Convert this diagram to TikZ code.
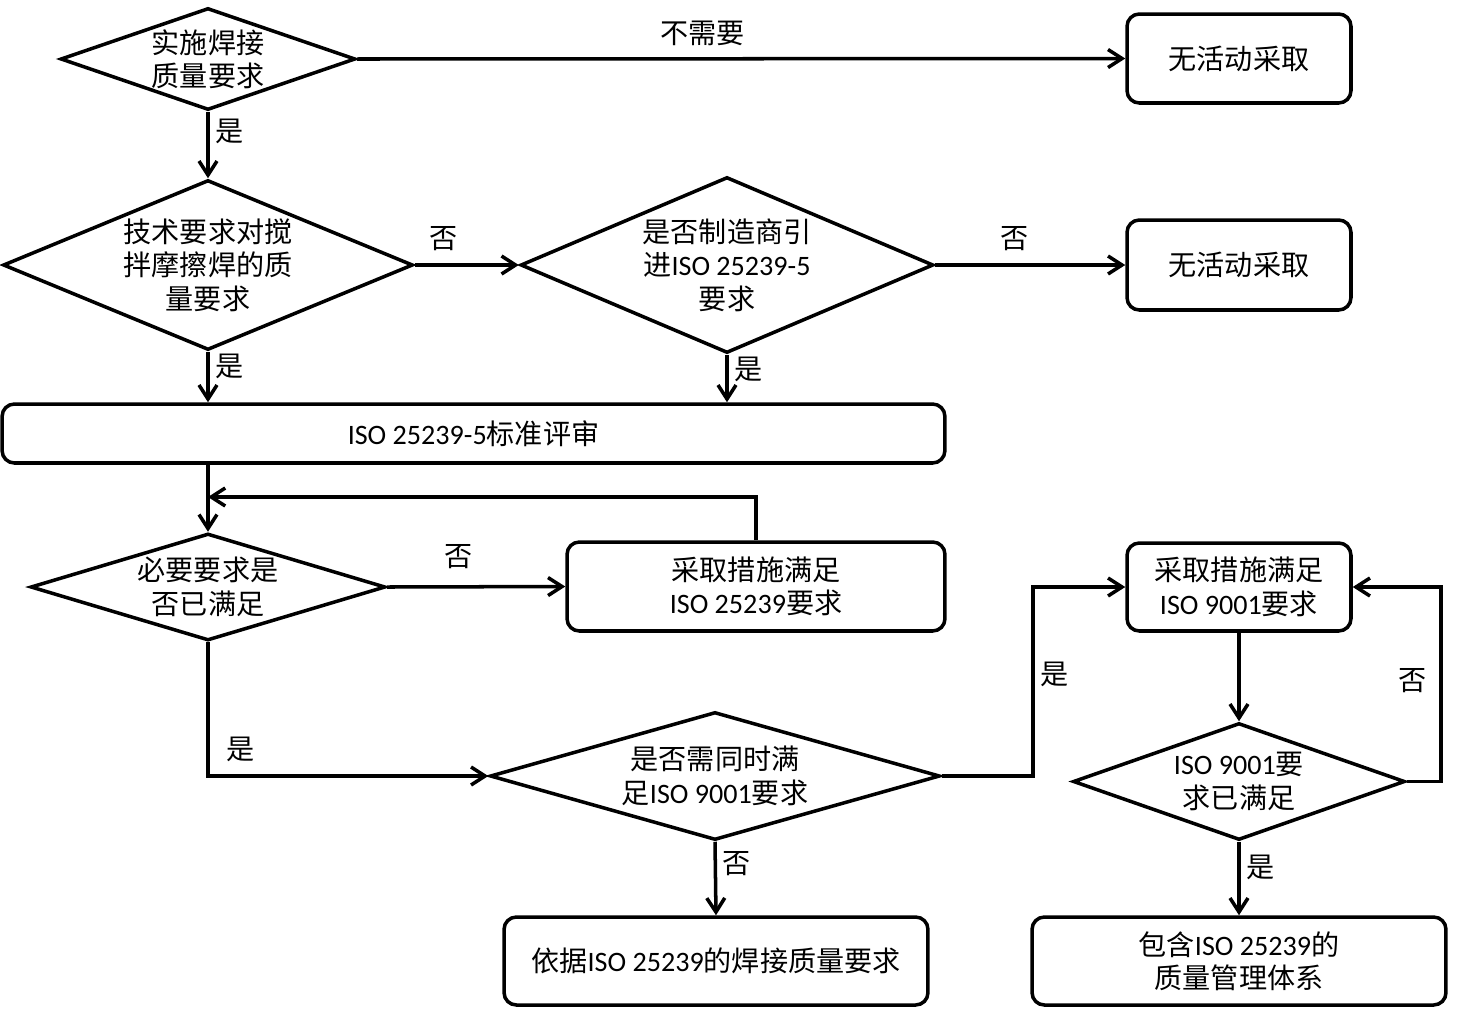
\documentclass[tikz,border=0pt]{standalone}
\usepackage{fontspec}
\setmainfont{Noto Sans CJK SC}
\newfontfamily\latfont{Carlito}
\newcommand{\lat}[1]{{\latfont #1}}
\usetikzlibrary{shapes.geometric,arrows.meta}

\begin{document}
\begin{tikzpicture}[x=0.02cm,y=-0.02cm,line width=2pt,>={Straight Barb[length=2.8mm,width=3.6mm]},font=\fontsize{16}{19}\selectfont]
\tikzstyle{dia}=[diamond,draw,inner sep=0pt]
\tikzstyle{box}=[rectangle,rounded corners=7pt,draw,align=center]
\useasboundingbox (0,0) rectangle (1457,1012);

\node[dia,minimum width=5.9cm,minimum height=2.04cm,label={[align=center]center:{实施焊接\\质量要求}}](d1) at (208,59) {};
\node[box,minimum width=4.48cm,minimum height=1.78cm](b1) at (1239,58.5) {无活动采取};
\node[dia,minimum width=8.2cm,minimum height=3.4cm,label={[align=center]center:{技术要求对搅\\拌摩擦焊的质\\量要求}}](d2) at (208,265) {};
\node[dia,minimum width=8.26cm,minimum height=3.52cm,label={[align=center]center:{是否制造商引\\进\lat{ISO 25239-5}\\要求}}](d3) at (727,265) {};
\node[box,minimum width=4.48cm,minimum height=1.8cm](b2) at (1239,265) {无活动采取};
\node[box,minimum width=18.86cm,minimum height=1.18cm](b3) at (473.5,433.5) {\lat{ISO 25239-5}标准评审};
\node[dia,minimum width=7.1cm,minimum height=2.14cm,label={[align=center]center:{必要要求是\\否已满足}}](d4) at (208,587) {};
\node[box,minimum width=7.56cm,minimum height=1.78cm](b4) at (756,586.5) {采取措施满足\\\lat{ISO 25239}要求};
\node[dia,minimum width=9cm,minimum height=2.56cm,label={[align=center]center:{是否需同时满\\足\lat{ISO 9001}要求}}](d5) at (715,776) {};
\node[box,minimum width=8.48cm,minimum height=1.76cm](b5) at (716,961) {依据\lat{ISO 25239}的焊接质量要求};
\node[box,minimum width=4.48cm,minimum height=1.76cm](b6) at (1239,587) {采取措施满足\\\lat{ISO 9001}要求};
\node[dia,minimum width=6.64cm,minimum height=2.34cm,label={[align=center]center:{\lat{ISO 9001}要\\求已满足}}](d6) at (1239,781.5) {};
\node[box,minimum width=8.28cm,minimum height=1.76cm](b7) at (1239,961) {包含\lat{ISO 25239}的\\质量管理体系};

\coordinate (back1) at (208,497);
\coordinate (turnyes) at (1033,587);
\coordinate (turnno) at (1441,587);

\draw[->] (d1.east) -- (b1.west) node[pos=0.45,above=3pt] {不需要};
\draw[->] (d1.south) -- (d2.north) node[pos=0.3,right] {是};
\draw[->] (d2.east) -- (d3.west) node[pos=0.28,above=4pt] {否};
\draw[->] (d3.east) -- (b2.west) node[pos=0.42,above=4pt] {否};
\draw[->] (d2.south) -- (d2.south |- b3.north) node[pos=0.3,right] {是};
\draw[->] (d3.south) -- (d3.south |- b3.north) node[pos=0.3,right] {是};
\draw[->] (d4.north |- b3.south) -- (d4.north);
\draw[->] (d4.east) -- (b4.west) node[pos=0.4,above=6pt] {否};
\draw[->] (b4.north) |- (back1);
\draw[->] (d4.south) |- (d5.west) node[pos=0.4,right=6pt] {是};
\draw[->] (d5.south) -- (b5.north) node[pos=0.3,right] {否};
\draw[->] (d5.east) -| node[pos=0.77,right] {是} (turnyes) -- (b6.west);
\draw[->] (b6.south) -- (d6.north);
\draw[->] (d6.east) -| node[pos=0.76,left=4pt] {否} (turnno) -- (b6.east);
\draw[->] (d6.south) -- (b7.north) node[pos=0.35,right] {是};
\end{tikzpicture}
\end{document}
